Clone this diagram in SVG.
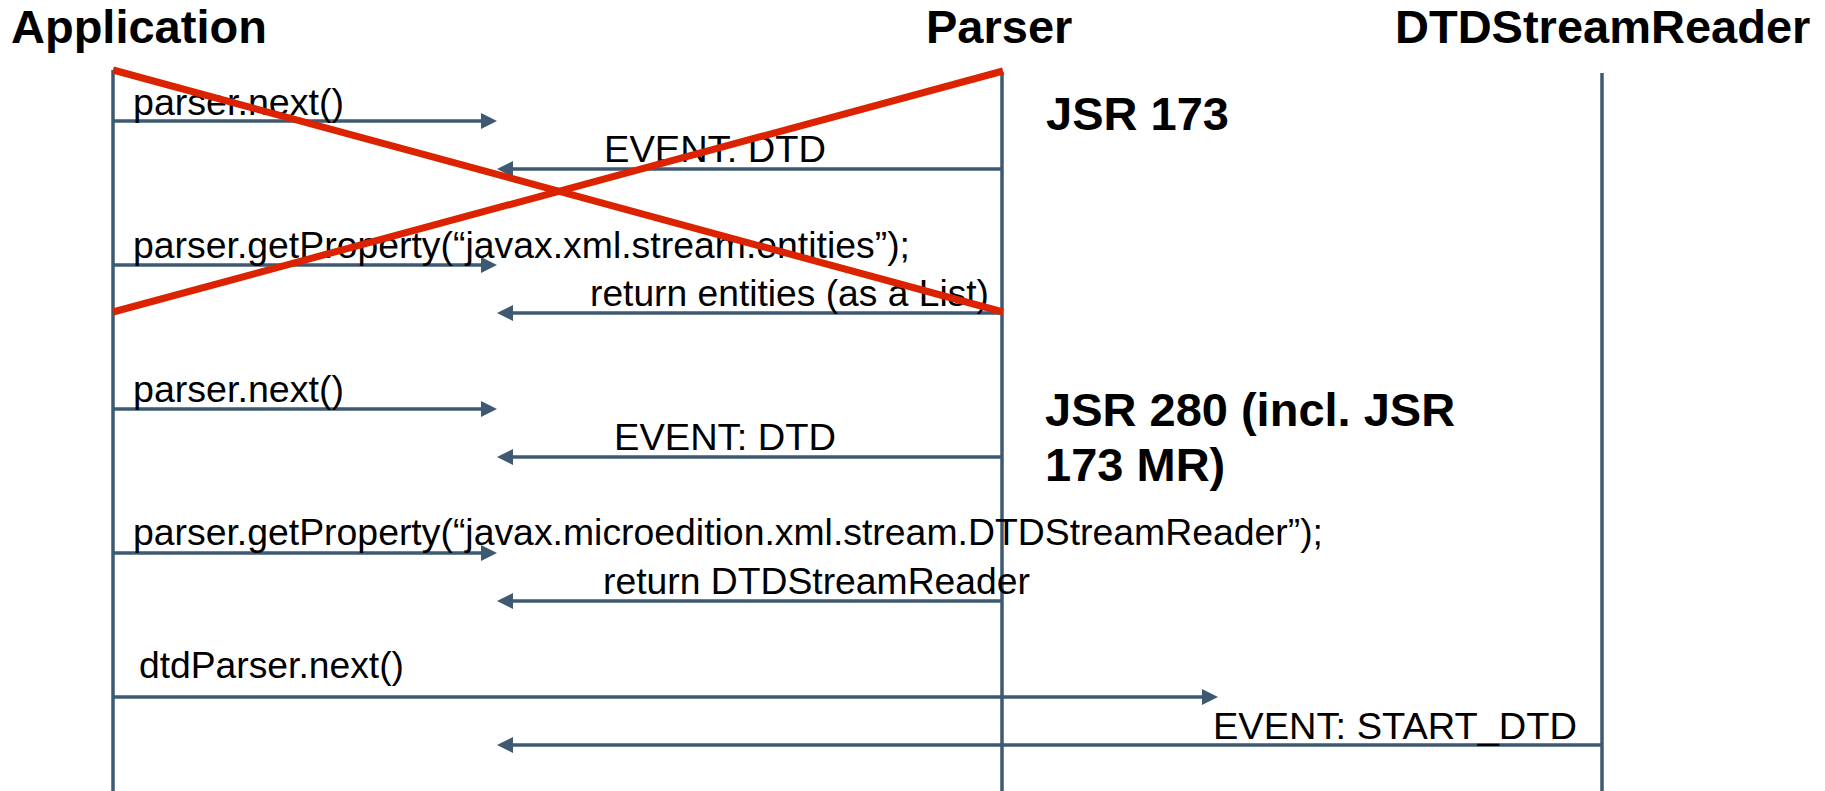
<svg xmlns="http://www.w3.org/2000/svg" width="1825" height="791" viewBox="0 0 1825 791">
  <style>
    .title { font-family: "Liberation Sans", Arial, sans-serif; font-weight: bold; font-size: 47px; fill: #000; }
    .note { font-family: "Liberation Sans", Arial, sans-serif; font-weight: bold; font-size: 47px; fill: #000; }
    .life { stroke: #3d5a72; stroke-width: 3.5; fill: none; }
    .msg { stroke: #3d5a72; stroke-width: 3.5; fill: none; marker-end: url(#head); }
    .lbl { font-family: "Liberation Sans", Arial, sans-serif; font-size: 36px; fill: #000; }
    .cross { stroke: #dc2300; stroke-width: 7; stroke-linecap: butt; }
  </style>
  <defs>
    <marker id="head" markerUnits="userSpaceOnUse" markerWidth="16" markerHeight="16" refX="0" refY="8" orient="auto">
      <path d="M0,0 L16,8 L0,16 z" fill="#3d5a72"/>
    </marker>
  </defs>
  <rect width="1825" height="791" fill="#fff"/>

  <!-- participants with their lifelines -->
  <g id="application">
    <text class="title" x="11" y="43">Application</text>
    <line class="life" x1="113" y1="70" x2="113" y2="791"/>
  </g>
  <g id="parser">
    <text class="title" x="926" y="43">Parser</text>
    <line class="life" x1="1002" y1="72" x2="1002" y2="791"/>
  </g>
  <g id="dtdstreamreader">
    <text class="title" x="1395" y="43">DTDStreamReader</text>
    <line class="life" x1="1602" y1="73" x2="1602" y2="791"/>
  </g>

  <!-- messages -->
  <g id="connectors">
    <line class="msg" x1="113" y1="121" x2="481" y2="121"/>
    <line class="msg" x1="1002" y1="169" x2="513" y2="169"/>
    <line class="msg" x1="113" y1="265" x2="481" y2="265"/>
    <line class="msg" x1="1002" y1="313" x2="513" y2="313"/>
    <line class="msg" x1="113" y1="409" x2="481" y2="409"/>
    <line class="msg" x1="1002" y1="457" x2="513" y2="457"/>
    <line class="msg" x1="113" y1="553" x2="481" y2="553"/>
    <line class="msg" x1="1002" y1="601" x2="513" y2="601"/>
    <line class="msg" x1="113" y1="697" x2="1202" y2="697"/>
    <line class="msg" x1="1602" y1="745" x2="513" y2="745"/>
  </g>

  <g id="labels">
    <text class="lbl" x="133" y="115" textLength="211" lengthAdjust="spacingAndGlyphs">parser.next()</text>
    <text class="lbl" x="604" y="162" textLength="222" lengthAdjust="spacingAndGlyphs">EVENT: DTD</text>
    <text class="lbl" x="133" y="258" textLength="777" lengthAdjust="spacingAndGlyphs">parser.getProperty(“javax.xml.stream.entities”);</text>
    <text class="lbl" x="590" y="306" textLength="399" lengthAdjust="spacingAndGlyphs">return entities (as a List)</text>
    <text class="lbl" x="133" y="402" textLength="211" lengthAdjust="spacingAndGlyphs">parser.next()</text>
    <text class="lbl" x="614" y="450" textLength="222" lengthAdjust="spacingAndGlyphs">EVENT: DTD</text>
    <text class="lbl" x="133" y="545" textLength="1190" lengthAdjust="spacingAndGlyphs">parser.getProperty(“javax.microedition.xml.stream.DTDStreamReader”);</text>
    <text class="lbl" x="603" y="594" textLength="427" lengthAdjust="spacingAndGlyphs">return DTDStreamReader</text>
    <text class="lbl" x="139" y="678" textLength="265" lengthAdjust="spacingAndGlyphs">dtdParser.next()</text>
    <text class="lbl" x="1213" y="739" textLength="364" lengthAdjust="spacingAndGlyphs">EVENT: START_DTD</text>
  </g>

  <!-- version notes -->
  <g id="notes">
    <text class="note" x="1046" y="130">JSR 173</text>
    <text class="note" x="1045" y="426">JSR 280 (incl. JSR</text>
    <text class="note" x="1045" y="481">173 MR)</text>
  </g>

  <!-- struck-out section -->
  <g id="strike">
    <line class="cross" x1="113" y1="70" x2="1003" y2="312"/>
    <line class="cross" x1="113" y1="312" x2="1003" y2="71"/>
  </g>
</svg>
